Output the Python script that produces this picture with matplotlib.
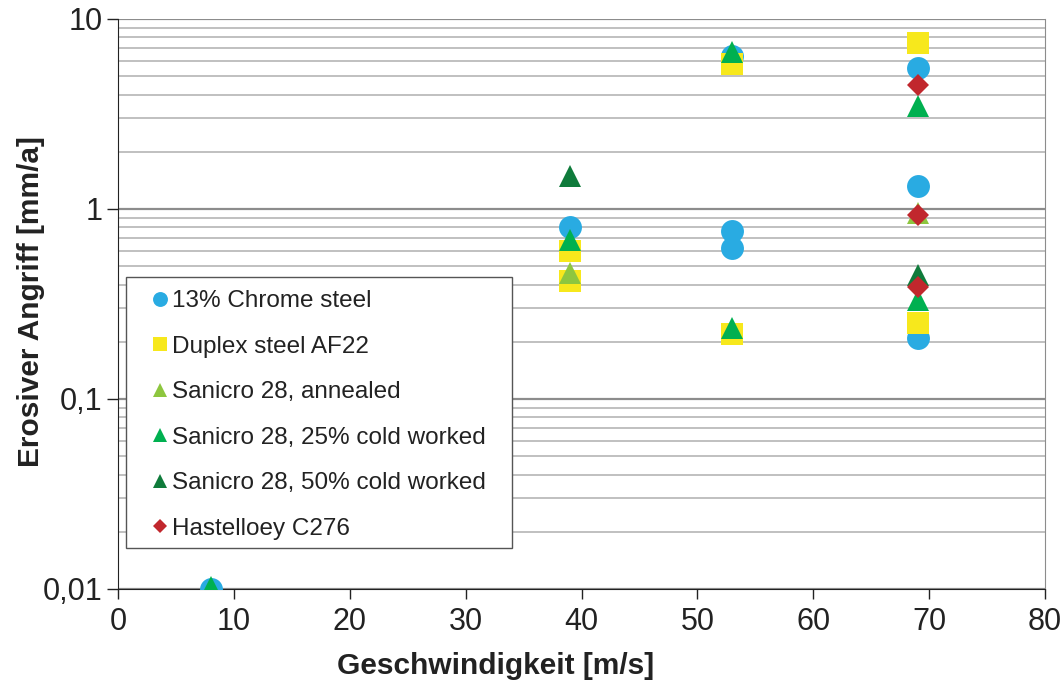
import matplotlib
matplotlib.use("Agg")
import matplotlib.pyplot as plt
from matplotlib.ticker import FixedLocator, FixedFormatter, NullFormatter
from matplotlib.lines import Line2D
from matplotlib.patches import Rectangle
import numpy as np

plt.rcParams['font.family'] = ['Liberation Sans', 'DejaVu Sans']

# Erosion rate [mm/a] versus flow velocity [m/s]
chrome_x = [8, 39, 53, 53, 53, 69, 69, 69]
chrome_y = [0.01, 0.80, 6.4, 0.77, 0.62, 5.5, 1.32, 0.21]

duplex_x = [39, 39, 53, 53, 69, 69]
duplex_y = [0.60, 0.42, 5.8, 0.22, 7.5, 0.25]

annealed_x = [39, 69]
annealed_y = [0.46, 0.95]

cold25_x = [8, 39, 53, 53, 69, 69]
cold25_y = [0.0102, 0.69, 6.7, 0.235, 3.5, 0.33]

cold50_x = [39, 69]
cold50_y = [1.5, 0.45]

hastelloy_x = [69, 69, 69]
hastelloy_y = [4.5, 0.93, 0.39]

series = [
    ("13% Chrome steel", chrome_x, chrome_y, "o", "#29ABE2", 16.5),
    ("Duplex steel AF22", duplex_x, duplex_y, "s", "#F7E81C", 16.0),
    ("Sanicro 28, annealed", annealed_x, annealed_y, "^", "#8DC63F", 16.5),
    ("Sanicro 28, 25% cold worked", cold25_x, cold25_y, "^", "#00B050", 16.5),
    ("Sanicro 28, 50% cold worked", cold50_x, cold50_y, "^", "#0F7B3B", 16.5),
    ("Hastelloey C276", hastelloy_x, hastelloy_y, "D", "#C1272D", 11.5),
]

W, H = 1063, 684
fig = plt.figure(figsize=(W / 100, H / 100), dpi=100)
ax = fig.add_axes([118 / W, 1 - 589 / H, (1045 - 118) / W, (589 - 19) / H])

for label, xs, ys, mk, col, ms in series:
    ax.plot(xs, ys, linestyle="none", marker=mk, color=col, markersize=ms,
            markeredgewidth=0, label=label, zorder=3)

ax.set_yscale("log")
ax.set_xlim(0, 80)
ax.set_ylim(0.01, 10)
ax.set_xticks(np.arange(0, 81, 10))
ax.yaxis.set_major_locator(FixedLocator([0.01, 0.1, 1, 10]))
ax.yaxis.set_major_formatter(FixedFormatter(["0,01", "0,1", "1", "10"]))
minor = [m * 10.0 ** e for e in (-2, -1, 0) for m in range(2, 10)]
ax.yaxis.set_minor_locator(FixedLocator(minor))
ax.yaxis.set_minor_formatter(NullFormatter())

ax.grid(True, which="major", axis="y", color="#8c8c8c", linewidth=1.6, zorder=0)
ax.grid(True, which="minor", axis="y", color="#c0c0c0", linewidth=1.4, zorder=0)
ax.set_axisbelow(True)

ax.spines["top"].set_visible(False)
ax.spines["right"].set_color("#8c8c8c")
ax.spines["left"].set_color("#222222")
ax.spines["bottom"].set_color("#222222")
ax.tick_params(axis="both", which="major", direction="out", length=8, width=1,
               labelsize=22, colors="#222222", pad=3)
ax.tick_params(axis="x", length=7, pad=6)
ax.tick_params(axis="y", which="minor", length=0)

ax.set_xlabel("Geschwindigkeit [m/s]", fontsize=21.5, fontweight="bold", color="#222222")
ax.xaxis.set_label_coords((496 - 118) / (1045 - 118), (589 - 666) / (589 - 19))
ax.xaxis.label.set_va("center")
ax.set_ylabel("Erosiver Angriff [mm/a]", fontsize=21.5, fontweight="bold", color="#222222")
ax.yaxis.set_label_coords((31 - 118) / (1045 - 118), (589 - 302) / (589 - 19))
ax.yaxis.label.set_va("center")

# legend box
fig.add_artist(Rectangle((126 / W, 1 - 548 / H), (512 - 126) / W, (548 - 277) / H,
                         transform=fig.transFigure, facecolor="white",
                         edgecolor="#555555", linewidth=1.0, zorder=4))

handles = [Line2D([], [], linestyle="none", marker=mk, color=col,
                  markersize=ms * 0.65, markeredgewidth=0)
           for _, _, _, mk, col, ms in series]
labels = [s[0] for s in series]
leg = fig.legend(handles, labels, loc="upper left",
                 bbox_to_anchor=(152 / W, 1 - 290 / H), bbox_transform=fig.transFigure,
                 fontsize=17.5, frameon=False, labelspacing=0.97, handlelength=0.62,
                 handletextpad=0.2, borderpad=0, borderaxespad=0)
leg.set_zorder(5)
for t in leg.get_texts():
    t.set_color("#222222")

fig.savefig("out.png", dpi=100)
